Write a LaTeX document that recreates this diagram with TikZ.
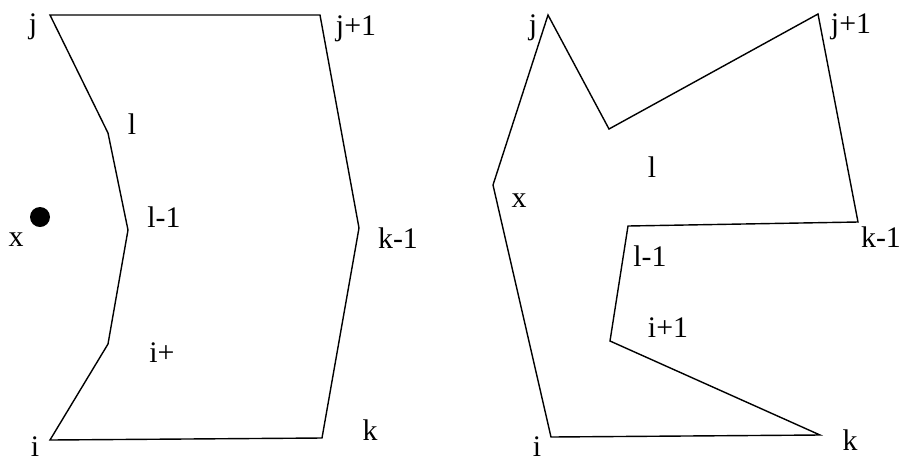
\documentclass[tikz,border=0pt]{standalone}
\usepackage{fontspec}
\setmainfont{Liberation Serif}
\begin{document}
\begin{tikzpicture}[x=0.02cm,y=-0.02cm,line width=0.8pt,
  lbl/.style={font=\fontsize{17}{19}\selectfont,inner sep=0pt}]
\useasboundingbox (0,0) rectangle (920,461);

% left polygon
\coordinate (Lj) at (50,15);
\coordinate (Ljp) at (320,15);
\coordinate (Lkm) at (359,228);
\coordinate (Lk) at (322,438);
\coordinate (Li) at (50,440);
\coordinate (Lip) at (108,344);
\coordinate (Llm) at (128,230);
\coordinate (Ll) at (108,133);
\draw (Lj) -- (Ljp) -- (Lkm) -- (Lk) -- (Li) -- (Lip) -- (Llm) -- (Ll) -- cycle;
\fill (40,217) circle (10);
\node[lbl] at (33,27) {j};
\node[lbl] at (356,29) {j+1};
\node[lbl] at (132,124) {l};
\node[lbl] at (164,217) {l-1};
\node[lbl] at (398,238) {k-1};
\node[lbl] at (16,240) {x};
\node[lbl] at (162,353) {i+};
\node[lbl] at (370,430) {k};
\node[lbl] at (35,447) {i};

% right polygon
\coordinate (Rj) at (548,15);
\coordinate (Rl) at (609,129);
\coordinate (Rjp) at (818,14);
\coordinate (Rkm) at (858,222);
\coordinate (Rlm) at (628,226);
\coordinate (Rip) at (610,341);
\coordinate (Rk) at (820,435);
\coordinate (Ri) at (551,437);
\coordinate (Rx) at (493,185);
\draw (Rj) -- (Rl) -- (Rjp) -- (Rkm) -- (Rlm) -- (Rip) -- (Rk) -- (Ri) -- (Rx) -- cycle;
\node[lbl] at (533,28) {j};
\node[lbl] at (851,27) {j+1};
\node[lbl] at (652,167) {l};
\node[lbl] at (519,201) {x};
\node[lbl] at (881,237) {k-1};
\node[lbl] at (650,256) {l-1};
\node[lbl] at (668,328) {i+1};
\node[lbl] at (537,447) {i};
\node[lbl] at (850,440) {k};
\end{tikzpicture}
\end{document}
